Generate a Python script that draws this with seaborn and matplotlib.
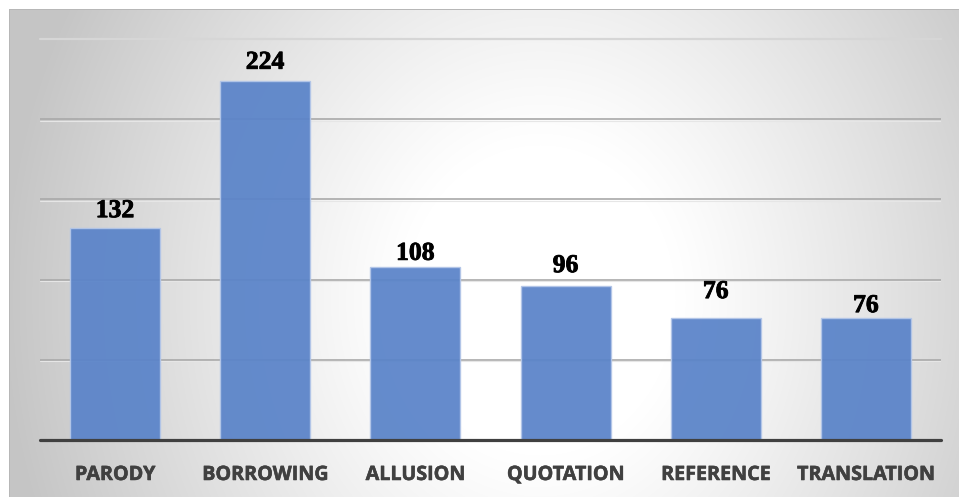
import numpy as np
import pandas as pd
import matplotlib
matplotlib.use("Agg")
import matplotlib.pyplot as plt
import matplotlib.patheffects as pe
import seaborn as sns

# Data
categories = ["PARODY", "BORROWING", "ALLUSION", "QUOTATION", "REFERENCE", "TRANSLATION"]
counts = [132, 224, 108, 96, 76, 76]
# gap (points) between bar top and its value label
label_gaps = [8, 8.6, 5, 10, 14.4, 4.3]

df = pd.DataFrame({"category": categories, "count": counts})

sns.set_theme(style="white")
plt.rcParams["font.family"] = ["DejaVu Sans"]

W, H = 959, 497
fig = plt.figure(figsize=(W / 100, H / 100), dpi=100)
fig.patch.set_facecolor("white")

# Radial grey-to-white chart-area background
bg_ax = fig.add_axes([0, 0, 1, 1], zorder=-2)
yy, xx = np.mgrid[0:H, 0:W]
cx, cy, rx, ry = 540, 300, 540, 620
r = np.sqrt(((xx - cx) / rx) ** 2 + ((yy - cy) / ry) ** 2)
t = np.clip((r - 0.25) / 0.75, 0, 1)
val = 255 - 58 * t ** 1.1
val = np.clip(val, 197, 255)
img = np.repeat(val[:, :, None], 3, axis=2) / 255.0
box_x0, box_y0 = 9, 9
img[:box_y0, :, :] = 1.0
img[:, :box_x0, :] = 1.0
img[box_y0, box_x0:, :] = 0.72
img[box_y0:, box_x0, :] = 0.72
bg_ax.imshow(img, extent=[0, W, H, 0], aspect="auto", interpolation="bilinear")
bg_ax.set_xlim(0, W)
bg_ax.set_ylim(H, 0)
bg_ax.axis("off")

# Plot area
ax = fig.add_axes([40 / W, 57 / H, 901 / W, 401 / H])
ax.set_facecolor("none")

for g in [50, 100, 150, 200]:
    ax.axhline(g, color="#a9a9a9", lw=1.2, zorder=0)
    ax.axhline(g - 1.0, color="#e6e6e6", lw=0.8, zorder=0)
ax.axhline(250, color="#d6d6d6", lw=1.6, zorder=0, clip_on=False)

sns.barplot(data=df, x="category", y="count", ax=ax, color="#5b84c9",
            width=0.6, saturation=1, alpha=0.94, edgecolor="#b3c6e8",
            linewidth=1.0, zorder=2)

ax.axhline(0, color="#404040", lw=2.3, zorder=3, clip_on=False)

# Value labels above bars
for i, (v, gap) in enumerate(zip(counts, label_gaps)):
    ax.annotate(str(v), xy=(i, v), xytext=(0, gap), textcoords="offset points",
                ha="center", va="baseline", fontsize=18.5, fontweight="bold",
                family=["Liberation Serif"], color="black", zorder=4,
                path_effects=[pe.withStroke(linewidth=0.6, foreground="black")])

# Category labels under the baseline
ax.set_xticks(range(len(categories)))
ax.set_xticklabels([])
ax.tick_params(axis="x", length=0)
for i, name in enumerate(categories):
    ax.annotate(name, xy=(i, 0), xytext=(0, -28.8), textcoords="offset points",
                ha="center", va="baseline", fontsize=14.2, fontweight="bold",
                family=["Open Sans", "DejaVu Sans"], color="#404040",
                annotation_clip=False,
                path_effects=[pe.withStroke(linewidth=0.4, foreground="#404040")])

ax.set_xlim(-0.5, 5.5)
ax.set_ylim(0, 250)
ax.set_yticks([])
ax.set_xlabel("")
ax.set_ylabel("")
for s in ax.spines.values():
    s.set_visible(False)

fig.savefig("out.png", dpi=100)
